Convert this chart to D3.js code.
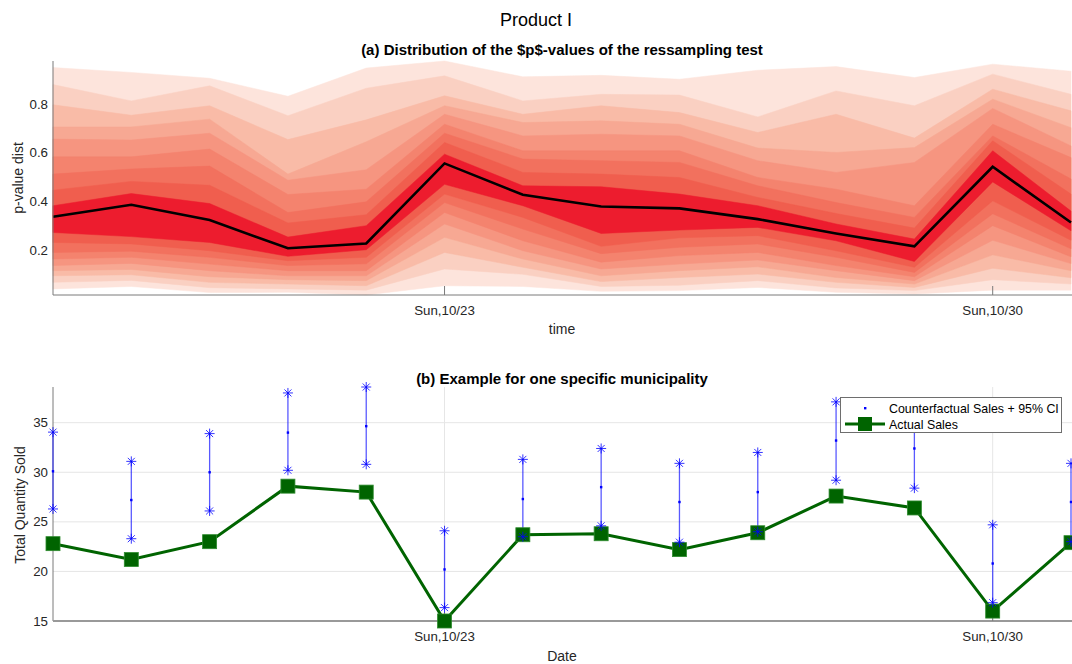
<!DOCTYPE html>
<html><head><meta charset="utf-8">
<script src="https://cdn.jsdelivr.net/npm/d3@7"></script>
<style>body{margin:0;background:#fff;} text{font-family:"Liberation Sans",Arial,Helvetica,sans-serif;}</style>
</head><body><svg id="chart" width="1072" height="664"></svg>
<script>
// ---------------- DATA ----------------
const days = ["2016-10-18","2016-10-19","2016-10-20","2016-10-21","2016-10-22","2016-10-23","2016-10-24",
              "2016-10-25","2016-10-26","2016-10-27","2016-10-28","2016-10-29","2016-10-30","2016-10-31"];
const tickDays = ["2016-10-23","2016-10-30"];
const yTicksP = [0.2, 0.4, 0.6, 0.8];
const yTicksQ = [15, 20, 25, 30, 35];

// (a) p-value distribution: median and quantile band edges (inner -> outer)
const pMedian = [0.337,0.386,0.323,0.207,0.227,0.556,0.427,0.379,0.371,0.327,0.268,0.215,0.542,0.313];
const pUpper = [
  [0.382,0.432,0.391,0.253,0.300,0.594,0.464,0.460,0.430,0.382,0.307,0.245,0.608,0.360],
  [0.446,0.482,0.466,0.311,0.345,0.642,0.519,0.512,0.498,0.416,0.350,0.290,0.649,0.430],
  [0.512,0.533,0.545,0.354,0.398,0.680,0.574,0.567,0.560,0.464,0.395,0.334,0.669,0.492],
  [0.583,0.583,0.615,0.428,0.450,0.717,0.608,0.608,0.608,0.498,0.450,0.382,0.717,0.580],
  [0.656,0.652,0.680,0.487,0.530,0.758,0.669,0.676,0.669,0.567,0.519,0.560,0.782,0.628],
  [0.706,0.706,0.738,0.512,0.645,0.793,0.724,0.731,0.717,0.619,0.601,0.621,0.820,0.703],
  [0.797,0.754,0.793,0.654,0.735,0.834,0.758,0.793,0.765,0.683,0.758,0.660,0.861,0.772],
  [0.880,0.813,0.875,0.752,0.865,0.916,0.813,0.840,0.837,0.747,0.854,0.793,0.923,0.840],
  [0.950,0.930,0.906,0.832,0.948,0.977,0.912,0.918,0.902,0.939,0.954,0.909,0.964,0.935]
];
const pLower = [
  [0.272,0.255,0.231,0.174,0.201,0.470,0.382,0.268,0.282,0.293,0.238,0.153,0.480,0.279],
  [0.231,0.225,0.197,0.156,0.170,0.430,0.334,0.215,0.250,0.259,0.197,0.129,0.402,0.240],
  [0.190,0.195,0.170,0.136,0.143,0.395,0.286,0.185,0.211,0.225,0.170,0.108,0.349,0.205],
  [0.163,0.170,0.142,0.115,0.115,0.354,0.238,0.150,0.177,0.190,0.136,0.090,0.300,0.172],
  [0.136,0.145,0.115,0.094,0.094,0.307,0.197,0.122,0.142,0.159,0.115,0.074,0.240,0.144],
  [0.115,0.120,0.090,0.078,0.074,0.252,0.163,0.094,0.115,0.131,0.087,0.060,0.180,0.115],
  [0.094,0.098,0.067,0.060,0.053,0.190,0.129,0.070,0.087,0.101,0.067,0.046,0.125,0.086],
  [0.067,0.075,0.045,0.040,0.035,0.122,0.100,0.050,0.055,0.074,0.044,0.033,0.078,0.060],
  [0.040,0.050,0.025,0.026,0.015,0.053,0.050,0.030,0.033,0.046,0.026,0.019,0.035,0.035]
];

// (b) one municipality
const actualSales = [22.8,21.2,23.0,28.6,28.0,15.0,23.7,23.8,22.2,23.9,27.6,26.4,16.0,22.9];
const cfUpper = [34.05,31.1,33.9,38.0,38.6,24.1,31.3,32.4,30.9,32.0,37.1,36.4,24.7,30.9];
const cfMid   = [30.1,27.2,30.0,34.0,34.65,20.2,27.3,28.5,27.0,28.0,33.2,32.4,20.8,27.0];
const cfLower = [26.3,23.3,26.1,30.2,30.8,16.35,23.5,24.6,22.95,24.0,29.2,28.4,16.85,23.0];

// ---------------- STYLE ----------------
const bandColors = ["#ED1C2E","#F05E4E","#F2715E","#F4836E","#F69580","#F7A893","#F9BBA7","#FAD0C2","#FDE4DC"];
const txt = "#262626", axisCol = "#7a7a7a", gridCol = "#e6e6e6";
const green = "#006400", blue = "#0000ff";

const parse = d3.timeParse("%Y-%m-%d");
const dates = days.map(parse);
const ticks = tickDays.map(parse);
const fmt = d3.timeFormat("%a,%m/%d");

const svg = d3.select("#chart");
const L = 53, R = 1071;
const x = d3.scaleTime().domain(d3.extent(dates)).range([L, R]);

svg.append("text").attr("x", 536).attr("y", 26).attr("text-anchor","middle")
   .attr("font-size", 18).attr("fill", "#000").text("Product I");

// ========== (a) ==========
const aTop = 61, aBot = 295;
const yA = d3.scaleLinear()
  .domain([d3.min(pLower[pLower.length-1]), d3.max(pUpper[pUpper.length-1])])
  .range([aBot, aTop]);
const gA = svg.append("g");
for (let k = pUpper.length - 1; k >= 0; k--) {
  const area = d3.area().x((d,i) => x(dates[i])).y0((d,i) => yA(pLower[k][i])).y1(d => yA(d));
  gA.append("path").datum(pUpper[k]).attr("d", area).attr("fill", bandColors[k])
    .attr("stroke", bandColors[k]).attr("stroke-width", 0.5);
}
gA.append("path").datum(pMedian)
  .attr("d", d3.line().x((d,i) => x(dates[i])).y(d => yA(d)))
  .attr("fill","none").attr("stroke","#000").attr("stroke-width",2.6).attr("stroke-linejoin","miter");

// axes (a)
gA.append("line").attr("x1",L).attr("x2",L).attr("y1",aTop).attr("y2",aBot).attr("stroke",axisCol);
gA.append("line").attr("x1",L).attr("x2",R+1).attr("y1",aBot).attr("y2",aBot).attr("stroke",axisCol);
ticks.forEach(t => {
  gA.append("line").attr("x1",x(t)).attr("x2",x(t)).attr("y1",aBot).attr("y2",aBot-9).attr("stroke",axisCol);
  gA.append("text").attr("x",x(t)).attr("y",aBot+20).attr("text-anchor","middle")
    .attr("font-size",13.3).attr("fill",txt).text(fmt(t));
});
yTicksP.forEach(v => {
  gA.append("text").attr("x",48).attr("y",yA(v)+4.5).attr("text-anchor","end")
    .attr("font-size",13.3).attr("fill",txt).text(d3.format(".1f")(v));
});
gA.append("text").attr("x",562).attr("y",334).attr("text-anchor","middle").attr("font-size",14).attr("fill",txt).text("time");
gA.append("text").attr("transform","translate(23,178) rotate(-90)").attr("text-anchor","middle")
  .attr("font-size",14).attr("fill",txt).text("p-value dist");
gA.append("text").attr("x",562).attr("y",55).attr("text-anchor","middle").attr("font-size",15)
  .attr("font-weight","bold").attr("fill","#000").text("(a) Distribution of the $p$-values of the ressampling test");

// ========== (b) ==========
const bTop = 387, bBot = 621;
const yB = d3.scaleLinear()
  .domain([d3.min(actualSales.concat(cfLower)), d3.max(cfUpper)])
  .range([bBot, bTop]);
const gB = svg.append("g");
// grid
yTicksQ.forEach(v => {
  if (v > yB.domain()[0]) gB.append("line").attr("x1",L).attr("x2",R+1).attr("y1",yB(v)).attr("y2",yB(v)).attr("stroke",gridCol);
});
ticks.forEach(t => {
  gB.append("line").attr("x1",x(t)).attr("x2",x(t)).attr("y1",bTop).attr("y2",bBot).attr("stroke",gridCol);
});
// axes
gB.append("line").attr("x1",L).attr("x2",L).attr("y1",bTop).attr("y2",bBot).attr("stroke",axisCol);
gB.append("line").attr("x1",L).attr("x2",R+1).attr("y1",bBot).attr("y2",bBot).attr("stroke","#999").attr("stroke-width",2);
ticks.forEach(t => {
  gB.append("line").attr("x1",x(t)).attr("x2",x(t)).attr("y1",bBot).attr("y2",bBot-9).attr("stroke",axisCol);
  gB.append("text").attr("x",x(t)).attr("y",bBot+20).attr("text-anchor","middle")
    .attr("font-size",13.3).attr("fill",txt).text(fmt(t));
});
yTicksQ.forEach(v => {
  gB.append("text").attr("x",48).attr("y",yB(v)+4.5).attr("text-anchor","end")
    .attr("font-size",13.3).attr("fill",txt).text(v);
});
gB.append("text").attr("x",562).attr("y",661).attr("text-anchor","middle").attr("font-size",14).attr("fill",txt).text("Date");
gB.append("text").attr("transform","translate(25,505) rotate(-90)").attr("text-anchor","middle")
  .attr("font-size",14).attr("fill",txt).text("Total Quantity Sold");
gB.append("text").attr("x",562).attr("y",384).attr("text-anchor","middle").attr("font-size",15)
  .attr("font-weight","bold").attr("fill","#000").text("(b) Example for one specific municipality");

// CI bars
const star = (cx, cy, r) => `M${cx-r},${cy}L${cx+r},${cy}M${cx},${cy-r}L${cx},${cy+r}` +
  `M${cx-r*0.7},${cy-r*0.7}L${cx+r*0.7},${cy+r*0.7}M${cx-r*0.7},${cy+r*0.7}L${cx+r*0.7},${cy-r*0.7}`;
dates.forEach((d,i) => {
  const cx = x(d);
  gB.append("line").attr("x1",cx).attr("x2",cx).attr("y1",yB(cfUpper[i])).attr("y2",yB(cfLower[i]))
    .attr("stroke",blue).attr("stroke-opacity",0.65).attr("stroke-width",1.3);
});
// actual sales
gB.append("path").datum(actualSales)
  .attr("d", d3.line().x((d,i) => x(dates[i])).y(d => yB(d)))
  .attr("fill","none").attr("stroke",green).attr("stroke-width",3);
actualSales.forEach((v,i) => {
  gB.append("rect").attr("x",x(dates[i])-7).attr("y",yB(v)-7).attr("width",14).attr("height",14)
    .attr("fill",green).attr("stroke","#2e8b2e").attr("stroke-width",0.8);
});
dates.forEach((d,i) => {
  const cx = x(d);
  [cfUpper[i], cfLower[i]].forEach(v => {
    gB.append("path").attr("d", star(cx, yB(v), 5)).attr("stroke",blue).attr("stroke-opacity",0.8)
      .attr("stroke-width",1).attr("fill","none");
  });
  gB.append("rect").attr("x",cx-1.2).attr("y",yB(cfMid[i])-1.2).attr("width",2.4).attr("height",2.4).attr("fill",blue);
});

// legend
const lg = svg.append("g");
lg.append("rect").attr("x",840.5).attr("y",397.5).attr("width",221).attr("height",35)
  .attr("fill","#fff").attr("stroke","#6e6e6e");
lg.append("rect").attr("x",864).attr("y",407).attr("width",2.4).attr("height",2.4).attr("fill",blue);
lg.append("text").attr("x",889).attr("y",413).attr("font-size",12.4).attr("fill","#000").text("Counterfactual Sales + 95% CI");
lg.append("line").attr("x1",845).attr("x2",885).attr("y1",424).attr("y2",424).attr("stroke",green).attr("stroke-width",3);
lg.append("rect").attr("x",858).attr("y",417).attr("width",14).attr("height",14).attr("fill",green);
lg.append("text").attr("x",889).attr("y",428.5).attr("font-size",12.4).attr("fill","#000").text("Actual Sales");
</script></body></html>
